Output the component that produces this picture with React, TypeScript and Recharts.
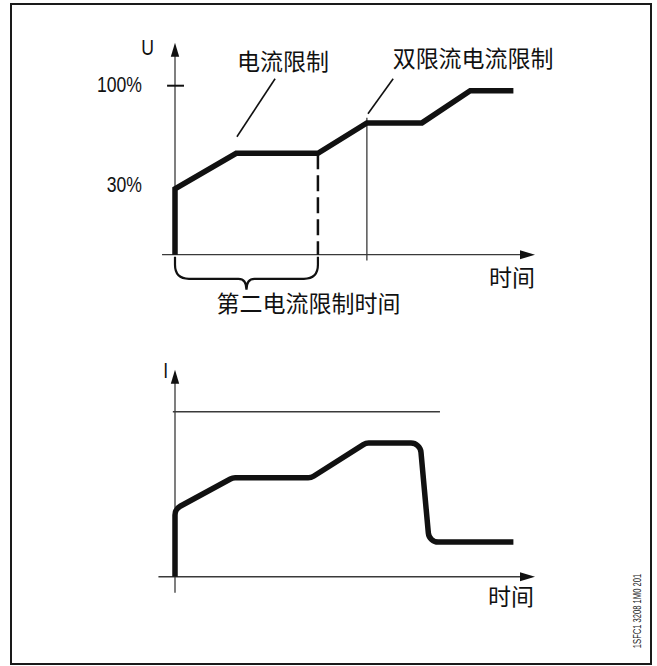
import {
  LineChart,
  Line,
  XAxis,
  YAxis,
  ReferenceLine,
  ReferenceDot,
  ReferenceArea,
} from 'recharts';

const FONT_CN = '"Noto Sans CJK SC", "Noto Sans", sans-serif';
const FONT_LATIN = '"Liberation Sans", Arial, sans-serif';
const LATIN_SQUEEZE = 0.8; // the figure uses a condensed face
const INK = '#111';
const AXIS = '#3a3a3a';

// voltage U (schematic %, 0 = time axis, 100 = the 100% tick)
const voltage = [
  { t: 0, u: 0 },
  { t: 0, u: 39 },
  { t: 17, u: 60 },
  { t: 39.7, u: 60 },
  { t: 53.3, u: 78 },
  { t: 68.6, u: 78 },
  { t: 82, u: 97 },
  { t: 94, u: 97 },
];

// current I (schematic, 100 = limit line)
const current = [
  { t: 0, i: 0 },
  { t: 0, i: 41 },
  { t: 16, i: 60 },
  { t: 37.8, i: 60 },
  { t: 53, i: 81 },
  { t: 68.1, i: 81 },
  { t: 70.6, i: 21 },
  { t: 94, i: 21 },
];

const uTicks = [
  { value: 101, label: '100%' },
  { value: 41.4, label: '30%' },
];

const secondLimitEnd = 39.7; // end of 第二电流限制时间
const dualLimitStart = 53.3; // start of 双限流电流限制
const currentLimit = 100;
const currentLimitEnd = 73.6;

// layout
const PX_T = 3.6;
const PX_U = 1.69;
const PX_I = 1.65;
const T_DOMAIN = [-25, 110];
const U_DOMAIN = [-40, 130];
const I_DOMAIN = [-25, 135];
const CHART_W = (T_DOMAIN[1] - T_DOMAIN[0]) * PX_T;
const U_H = (U_DOMAIN[1] - U_DOMAIN[0]) * PX_U;
const I_H = (I_DOMAIN[1] - I_DOMAIN[0]) * PX_I;

const uLabels = [
  { x: -7.6, y: 122.5, text: 'U', cn: false },
  { x: 30, y: 115.1, text: '电流限制', cn: true },
  { x: 82.8, y: 116.9, text: '双限流电流限制', cn: true },
  { x: 93.6, y: -12.4, text: '时间', cn: true },
  { x: 37.1, y: -28.1, text: '第二电流限制时间', cn: true },
];

const iLabels = [
  { x: -2.6, y: 125.2, text: 'I', cn: false },
  { x: 93.3, y: -10.9, text: '时间', cn: true },
];

const caption =
  (text: string, cn: boolean, anchor: 'middle' | 'end' = 'middle') =>
  (p: any) => (
    <text
      transform={`translate(${p.cx},${p.cy}) scale(${cn ? 1 : LATIN_SQUEEZE},1)`}
      x={0}
      y={0}
      textAnchor={anchor}
      dominantBaseline="central"
      fontFamily={cn ? FONT_CN : FONT_LATIN}
      fontSize={cn ? 23 : 22}
      fill={INK}
    >
      {text}
    </text>
  );

const arrowUp = (p: any) => (
  <path
    d={`M${p.cx},${p.cy} L${p.cx - 4.2},${p.cy + 14} L${p.cx + 4.2},${p.cy + 14} Z`}
    fill={INK}
  />
);

const arrowRight = (p: any) => (
  <path
    d={`M${p.cx},${p.cy} L${p.cx - 15},${p.cy - 4.5} L${p.cx - 15},${p.cy + 4.5} Z`}
    fill={INK}
  />
);

const brace = (p: any) => {
  const { x, y, width: w, height: h } = p;
  const yb = y + h * 0.67;
  const r = 14;
  const n = 8;
  const cx = x + w / 2;
  const d =
    `M${x},${y} L${x},${yb - r} Q${x},${yb} ${x + r},${yb} ` +
    `L${cx - n},${yb} Q${cx},${yb} ${cx},${y + h} Q${cx},${yb} ${cx + n},${yb} ` +
    `L${x + w - r},${yb} Q${x + w},${yb} ${x + w},${yb - r} L${x + w},${y}`;
  return <path d={d} fill="none" stroke={INK} strokeWidth={2.2} />;
};

// polyline with rounded joints, used as a d3 curve factory
const roundedCorners = (radius: number) => (context: any) => {
  let pts: number[][] = [];
  return {
    areaStart() {},
    areaEnd() {},
    lineStart() {
      pts = [];
    },
    point(x: number, y: number) {
      pts.push([x, y]);
    },
    lineEnd() {
      if (!pts.length) return;
      context.moveTo(pts[0][0], pts[0][1]);
      for (let k = 1; k < pts.length - 1; k++) {
        context.arcTo(pts[k][0], pts[k][1], pts[k + 1][0], pts[k + 1][1], radius);
      }
      const last = pts[pts.length - 1];
      context.lineTo(last[0], last[1]);
    },
  };
};

const VoltageChart = () => (
  <LineChart
    width={CHART_W}
    height={U_H}
    margin={{ top: 0, right: 0, bottom: 0, left: 0 }}
  >
    <XAxis type="number" dataKey="t" domain={T_DOMAIN} hide />
    <YAxis type="number" domain={U_DOMAIN} hide />
    <ReferenceLine segment={[{ x: -3.6, y: 0 }, { x: 99, y: 0 }]} stroke={AXIS} strokeWidth={1.3} />
    <ReferenceLine segment={[{ x: 0, y: 0 }, { x: 0, y: 120 }]} stroke={AXIS} strokeWidth={1.3} />
    <ReferenceDot x={100} y={0} r={0} shape={arrowRight} />
    <ReferenceDot x={0} y={125.4} r={0} shape={arrowUp} />
    <ReferenceLine segment={[{ x: -2.2, y: 100 }, { x: 2.5, y: 100 }]} stroke={INK} strokeWidth={2} />
    {uTicks.map((tk) => (
      <ReferenceDot key={tk.label} x={-9.2} y={tk.value} r={0} shape={caption(tk.label, false, 'end')} />
    ))}
    <ReferenceLine
      segment={[{ x: secondLimitEnd, y: 60 }, { x: secondLimitEnd, y: 0 }]}
      stroke={INK}
      strokeWidth={2.5}
      strokeDasharray="16 6"
    />
    <ReferenceLine
      segment={[{ x: dualLimitStart, y: 81 }, { x: dualLimitStart, y: -3.5 }]}
      stroke={AXIS}
      strokeWidth={1.3}
    />
    <ReferenceLine segment={[{ x: 27.8, y: 104.1 }, { x: 17.2, y: 69.8 }]} stroke={INK} strokeWidth={1.6} />
    <ReferenceLine segment={[{ x: 60.6, y: 104.1 }, { x: 53.6, y: 83.4 }]} stroke={INK} strokeWidth={1.6} />
    <ReferenceArea x1={0} x2={secondLimitEnd} y1={-1.2} y2={-20.7} shape={brace} />
    {uLabels.map((l) => (
      <ReferenceDot key={l.text + l.x} x={l.x} y={l.y} r={0} shape={caption(l.text, l.cn)} />
    ))}
    <Line
      data={voltage}
      dataKey="u"
      type="linear"
      stroke={INK}
      strokeWidth={5.5}
      dot={false}
      activeDot={false}
      isAnimationActive={false}
    />
  </LineChart>
);

const CurrentChart = () => (
  <LineChart
    width={CHART_W}
    height={I_H}
    margin={{ top: 0, right: 0, bottom: 0, left: 0 }}
  >
    <XAxis type="number" dataKey="t" domain={T_DOMAIN} hide />
    <YAxis type="number" domain={I_DOMAIN} hide />
    <ReferenceLine segment={[{ x: -4.6, y: 0 }, { x: 99, y: 0 }]} stroke={AXIS} strokeWidth={1.3} />
    <ReferenceLine segment={[{ x: 0, y: -9.7 }, { x: 0, y: 120 }]} stroke={AXIS} strokeWidth={1.3} />
    <ReferenceDot x={100} y={0} r={0} shape={arrowRight} />
    <ReferenceDot x={0} y={125.5} r={0} shape={arrowUp} />
    <ReferenceLine
      segment={[{ x: -0.6, y: currentLimit }, { x: currentLimitEnd, y: currentLimit }]}
      stroke={AXIS}
      strokeWidth={1.3}
    />
    {iLabels.map((l) => (
      <ReferenceDot key={l.text + l.x} x={l.x} y={l.y} r={0} shape={caption(l.text, l.cn)} />
    ))}
    <Line
      data={current}
      dataKey="i"
      type={roundedCorners(10) as any}
      stroke={INK}
      strokeWidth={5.5}
      dot={false}
      activeDot={false}
      isAnimationActive={false}
    />
  </LineChart>
);

export default function App() {
  return (
    <div
      style={{
        position: 'absolute',
        left: 0,
        top: 0,
        width: 657,
        height: 666,
        background: '#fff',
      }}
    >
      <div
        style={{
          position: 'absolute',
          left: 10,
          top: 3,
          width: 642,
          height: 662,
          border: '2px solid #1a1a1a',
          boxSizing: 'border-box',
        }}
      />
      <div style={{ position: 'absolute', left: 175 + T_DOMAIN[0] * PX_T, top: 255 - U_DOMAIN[1] * PX_U }}>
        <VoltageChart />
      </div>
      <div style={{ position: 'absolute', left: 175 + T_DOMAIN[0] * PX_T, top: 577 - I_DOMAIN[1] * PX_I }}>
        <CurrentChart />
      </div>
      <div
        style={{
          position: 'absolute',
          left: 637,
          top: 611,
          transform: 'translate(-50%, -50%) rotate(-90deg) scaleX(0.69)',
          whiteSpace: 'nowrap',
          fontFamily: FONT_LATIN,
          fontSize: 11,
          lineHeight: '12px',
          color: '#222',
        }}
      >
        1SFC1 3208 1M0 201
      </div>
    </div>
  );
}
